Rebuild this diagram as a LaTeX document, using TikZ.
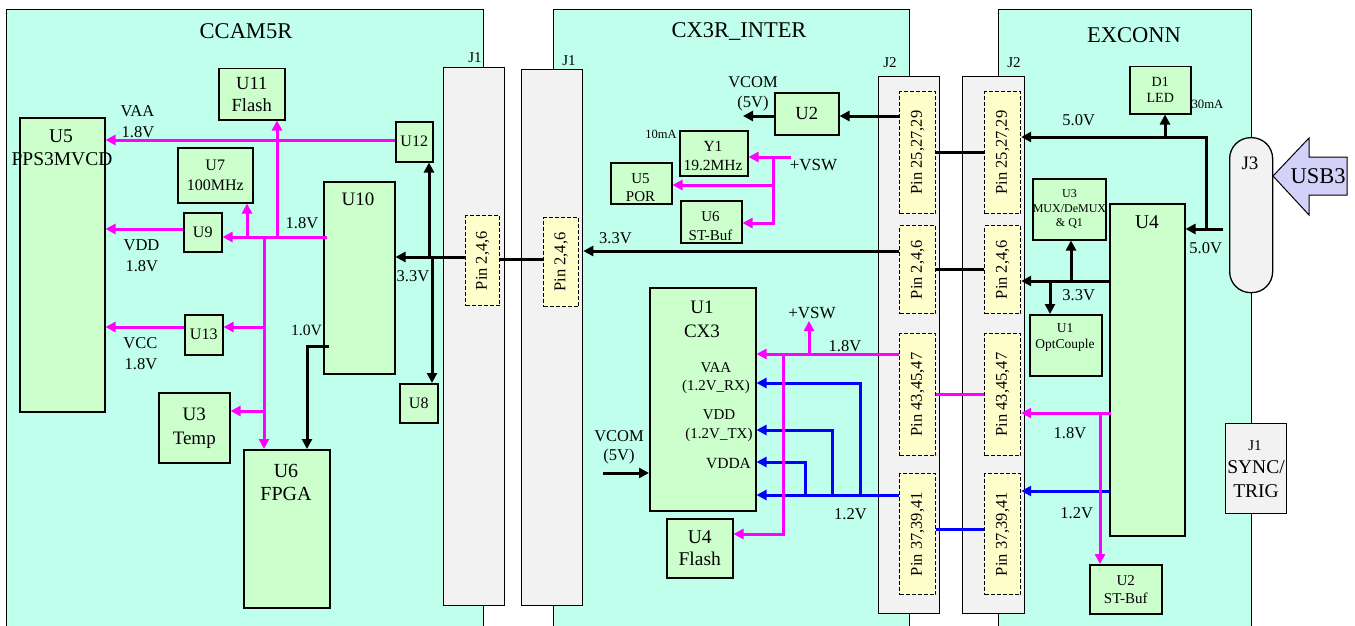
\documentclass[tikz,border=0pt]{standalone}
\usepackage{fontspec}
\setmainfont{Liberation Serif}
\usetikzlibrary{arrows.meta}
\definecolor{panelc}{RGB}{191,255,236}
\definecolor{boxc}{RGB}{204,255,204}
\definecolor{greyc}{RGB}{242,242,242}
\definecolor{pinc}{RGB}{255,255,204}
\definecolor{usbc}{RGB}{210,210,248}
\definecolor{magc}{RGB}{255,0,255}
\definecolor{bluc}{RGB}{0,0,255}
\newcommand\fz[2]{\fontsize{#1}{#2}\selectfont}
\newcommand\bx[7]{\node[#1,anchor=north west,minimum width={(#4)-(#2)},minimum height={(#5)-(#3)}] (#6) at (#2,#3) {#7};}
\tikzset{
  panel/.style={draw, line width=1.3pt, fill=panelc, inner sep=0pt},
  gbox/.style={draw, line width=1.5pt, fill=boxc, inner sep=0pt, align=center},
  conn/.style={draw, line width=1.3pt, fill=greyc, inner sep=0pt, align=center},
  pinb/.style={draw, line width=1.2pt, dash pattern=on 4pt off 2pt, fill=pinc, inner sep=0pt},
  pint/.style={rotate=90, inner sep=0pt, font=\fz{16.5}{19}},
  ttl/.style={inner sep=0pt, font=\fz{22.5}{26}},
  lab/.style={inner sep=0pt, align=center, font=\fz{16.5}{19}},
  bk/.style={line width=3pt, draw=black},
  mg/.style={line width=3pt, draw=magc},
  bl/.style={line width=3pt, draw=bluc},
  tip/.style={-{Triangle[length=10pt,width=10pt]}}
}
\begin{document}
\begin{tikzpicture}[x=1pt,y=-1pt]
\useasboundingbox (0,0) rectangle (1355,626);
\clip (0,0) rectangle (1355,626);
% panels
\bx{panel}{6}{9}{483}{640}{pA}{}
\bx{panel}{553}{9}{909}{640}{pB}{}
\bx{panel}{998}{9}{1251}{640}{pC}{}
\node[ttl] (tA) at (246,31) {CCAM5R};
\node[ttl] (tB) at (739,32) {CX3R\_INTER};
\node[ttl] (tC) at (1134,35) {EXCONN};
% board connectors
\bx{conn}{443}{67}{504}{605}{jA}{}
\bx{conn}{521}{69}{582}{605}{jB}{}
\bx{conn}{878}{76}{939}{613}{jC}{}
\bx{conn}{962}{76}{1024}{613}{jD}{}
\node[lab,font=\fz{15}{18}] (ljA) at (475,58) {J1};
\node[lab,font=\fz{15}{18}] (ljB) at (569,61) {J1};
\node[lab,font=\fz{15}{18}] (ljC) at (890,63) {J2};
\node[lab,font=\fz{15}{18}] (ljD) at (1014,63) {J2};
% pins
\bx{pinb}{465}{215}{499}{305}{pL}{}
\bx{pinb}{543}{217}{578}{306}{pM}{}
\bx{pinb}{899}{91}{935}{213}{a1}{}
\bx{pinb}{899}{225}{935}{313}{a2}{}
\bx{pinb}{899}{333}{935}{455}{a3}{}
\bx{pinb}{899}{473}{935}{594}{a4}{}
\bx{pinb}{984}{91}{1020}{213}{b1}{}
\bx{pinb}{984}{225}{1020}{313}{b2}{}
\bx{pinb}{984}{333}{1020}{455}{b3}{}
\bx{pinb}{984}{473}{1020}{594}{b4}{}
\node[pint] (tpL) at (pL) {Pin 2,4,6};
\node[pint] (tpM) at (pM) {Pin 2,4,6};
\node[pint] (ta1) at (a1) {Pin 25,27,29};
\node[pint] (ta2) at (a2) {Pin 2,4,6};
\node[pint] (ta3) at (a3) {Pin 43,45,47};
\node[pint] (ta4) at (a4) {Pin 37,39,41};
\node[pint] (tb1) at (b1) {Pin 25,27,29};
\node[pint] (tb2) at (b2) {Pin 2,4,6};
\node[pint] (tb3) at (b3) {Pin 43,45,47};
\node[pint] (tb4) at (b4) {Pin 37,39,41};
% CCAM5R boxes
\bx{gbox}{19}{117}{104}{411}{U5}{}
\node[lab,font=\fz{19.5}{22}] (tU5a) at (61,136) {U5};
\node[lab,font=\fz{19.5}{22}] (tU5b) at (62,159) {PPS3MVCD};
\bx{gbox,font=\fz{18.5}{22}}{218}{68}{284}{119}{U11}{U11\\Flash}
\bx{gbox,font=\fz{16}{20.5}}{177}{147}{252}{202}{U7}{U7\\100MHz}
\bx{gbox,font=\fz{16}{19}}{395}{121}{432}{161}{U12}{U12}
\bx{gbox,font=\fz{16}{19}}{183}{212}{221}{251}{U9}{U9}
\bx{gbox}{323}{181}{394}{373}{U10}{}
\node[lab,font=\fz{19}{22}] (tU10) at (358,199) {U10};
\bx{gbox,font=\fz{16}{19}}{184}{314}{222}{354}{U13}{U13}
\bx{gbox,font=\fz{19}{24}}{158}{392}{229}{462}{U3}{U3\\Temp}
\bx{gbox}{243}{449}{329}{607}{U6}{}
\node[lab,font=\fz{20}{23}] (tU6) at (286,482) {U6\\FPGA};
\bx{gbox,font=\fz{16}{19}}{399}{383}{437}{422}{U8}{U8}
% CX3R_INTER boxes
\bx{gbox,font=\fz{18.5}{22}}{774}{92}{838}{134}{U2m}{U2}
\bx{gbox}{679}{130}{747}{175}{Y1}{}
\node[lab,font=\fz{15.5}{19}] (tY1) at (713,156) {Y1\\19.2MHz};
\bx{gbox}{610}{162}{671}{203}{U5m}{}
\node[lab,font=\fz{15}{18}] (tU5m) at (640.5,188) {U5\\POR};
\bx{gbox}{680}{200}{741}{242}{U6m}{}
\node[lab,font=\fz{15}{19}] (tU6m) at (710.5,226.5) {U6\\ST-Buf};
\bx{gbox}{649}{287}{755}{510}{U1m}{}
\node[lab,font=\fz{19}{24}] (tU1m) at (702,319.5) {U1\\CX3};
\node[lab,font=\fz{15}{18}] (tvaa) at (716,378) {VAA\\(1.2V\_RX)};
\node[lab,font=\fz{15}{19}] (tvdd) at (719,425.5) {VDD\\(1.2V\_TX)};
\node[lab,font=\fz{15.5}{18}] (tvdda) at (728.5,463) {VDDA};
\bx{gbox,font=\fz{19.5}{22}}{666}{518}{732}{577}{U4m}{U4\\Flash}
% EXCONN boxes
\bx{gbox,font=\fz{14}{16}}{1129}{66}{1190}{113}{D1}{D1\\LED}
\bx{gbox,font=\fz{12}{14.5}}{1032}{178}{1104}{239}{U3r}{U3\\MUX/DeMUX\\\& Q1}
\bx{gbox}{1109}{203}{1184}{535}{U4r}{}
\node[lab,font=\fz{19.5}{22}] (tU4r) at (1147,222) {U4};
\bx{gbox}{1029}{314}{1101}{375}{U1r}{}
\node[lab,font=\fz{13.5}{16}] (tU1r) at (1065,337) {U1\\OptCouple};
\bx{gbox,font=\fz{15}{18}}{1089}{564}{1161}{613}{U2r}{U2\\ST-Buf}
\bx{conn}{1225}{423}{1286}{513}{J1r}{}
\node[lab,font=\fz{15}{18}] (tJ1r) at (1255,446) {J1};
\node[lab,font=\fz{19.5}{24}] (tJ1s) at (1256,479) {SYNC/\\TRIG};
\node[draw, line width=1.3pt, fill=greyc, rounded corners=21pt, anchor=north west,
      minimum width=43, minimum height=155, inner sep=0pt] (J3) at (1229,137) {};
\node[lab,font=\fz{19}{22}] (tJ3) at (1250,163) {J3};
\draw[fill=usbc, line width=1pt, line join=miter] (1273,176) -- (1309,138) -- (1309,157) -- (1347,157)
   -- (1347,195) -- (1309,195) -- (1309,215) -- cycle;
\node[lab,font=\fz{22.5}{26}] (tUSB) at (1318,176) {USB3};
% ---------- connectors: CCAM5R
\draw[bk,tip] (pL.west |- 0,257) -- (U10.east |- 0,257);
\draw[bk,tip] (429,257) -- (429,0 |- U12.south);
\draw[bk,tip] (432,257) -- (432,0 |- U8.north);
\draw[bk,tip] ([xshift=6pt]U10.west |- 0,346) -- (307,346) -- (307,0 |- U6.north);
\draw[mg,tip] (U12.west |- 0,140) -- (U5.east |- 0,140);
\draw[mg,tip] ([xshift=4pt]U10.west |- 0,237) -- (U9.east |- 0,237);
\draw[mg,tip] (277,237) -- (277,0 |- U11.south);
\draw[mg,tip] (247,237) -- (247,0 |- U7.south);
\draw[mg,tip] (264,237) -- (264,0 |- U6.north);
\draw[mg,tip] (264,327) -- (U13.east |- 0,327);
\draw[mg,tip] (264,411) -- (U3.east |- 0,411);
\draw[mg,tip] (U9.west |- 0,229) -- (U5.east |- 0,229);
\draw[mg,tip] (U13.west |- 0,327) -- (U5.east |- 0,327);
\node[lab] (l1) at (137.5,111.5) {VAA};
\node[lab] (l2) at (138,132.5) {1.8V};
\node[lab] (l3) at (141.5,245.5) {VDD};
\node[lab] (l4) at (141.8,266) {1.8V};
\node[lab] (l5) at (140.3,343.3) {VCC};
\node[lab] (l6) at (141,364.3) {1.8V};
\node[lab] (l7) at (302,223.3) {1.8V};
\node[lab] (l8) at (413,276) {3.3V};
\node[lab,font=\fz{15.7}{19}] (l9) at (306.5,330) {1.0V};
% ---------- connectors: CX3R_INTER
\coordinate (vcom) at (743,116);
\coordinate (vcomin) at (603,473);
\coordinate (vsw) at (809,321);
\draw[bk] (pL.east |- 0,259) -- (pM.west |- 0,259);
\draw[bk,tip] (a1.west |- 0,116) -- (U2m.east |- 0,116);
\draw[bk,tip] (U2m.west |- 0,116) -- (vcom);
\draw[mg,tip] (791,157) -- (Y1.east |- 0,157);
\draw[mg,tip] (773,157) -- (773,223) -- (U6m.east |- 0,223);
\draw[mg,tip] (773,185) -- (U5m.east |- 0,185);
\draw[bk,tip] (a2.west |- 0,251) -- (jB.east |- 0,251);
\draw[bk,tip] (vcomin) -- (U1m.west |- vcomin);
\draw[bl,tip] (a4.west |- 0,495) -- (U1m.east |- 0,495);
\draw[bl,tip] (860,495) -- (860,383) -- (U1m.east |- 0,383);
\draw[bl,tip] (832,495) -- (832,430) -- (U1m.east |- 0,430);
\draw[bl,tip] (805,495) -- (805,462) -- (U1m.east |- 0,462);
\draw[mg,tip] (a3.west |- 0,354) -- (U1m.east |- 0,354);
\draw[mg,tip] (809,354) -- (vsw);
\draw[mg,tip] (783,354) -- (783,534) -- (U4m.east |- 0,534);
\node[lab] (m1) at (753,82) {VCOM};
\node[lab] (m2) at (753,104) {(5V)};
\node[lab,font=\fz{12.5}{15}] (m3) at (661,134) {10mA};
\node[lab,font=\fz{17}{20}] (m4) at (813.5,165) {+VSW};
\node[lab] (m5) at (615.5,238) {3.3V};
\node[lab] (m6) at (619,436) {VCOM};
\node[lab] (m7) at (619,457) {(5V)};
\node[lab,font=\fz{17}{20}] (m8) at (812,312.7) {+VSW};
\node[lab] (m9) at (845,346) {1.8V};
\node[lab] (m10) at (850.5,513.7) {1.2V};
% ---------- between J2 connectors
\draw[bk] (a1.east |- 0,152) -- (b1.west |- 0,152);
\draw[bk] (a2.east |- 0,269) -- (b2.west |- 0,269);
\draw[mg] (a3.east |- 0,394) -- (b3.west |- 0,394);
\draw[bl] (a4.east |- 0,529) -- (b4.west |- 0,529);
% ---------- connectors: EXCONN
\draw[bk,tip] ([xshift=-6pt]J3.west |- 0,229) -- (U4r.east |- 0,229);
\draw[bk,tip] (1206,229) -- (1206,137) -- (b1.east |- 0,137);
\draw[bk,tip] (1165,137) -- (1165,0 |- D1.south);
\draw[bk,tip] (U4r.west |- 0,281) -- (b2.east |- 0,281);
\draw[bk,tip] (1071,281) -- (1071,0 |- U3r.south);
\draw[bk,tip] (1050,281) -- (1050,0 |- U1r.north);
\draw[bl,tip] (U4r.west |- 0,491) -- (b4.east |- 0,491);
\draw[mg,tip] ([xshift=2pt]U4r.west |- 0,413) -- (b3.east |- 0,413);
\draw[mg,tip] (1100,413) -- (1100,0 |- U2r.north);
\node[lab] (r1) at (1078.7,120) {5.0V};
\node[lab,font=\fz{12.7}{15}] (r2) at (1207.5,104) {30mA};
\node[lab] (r3) at (1205.7,247.7) {5.0V};
\node[lab] (r4) at (1078.7,295) {3.3V};
\node[lab] (r5) at (1070,432.7) {1.8V};
\node[lab] (r6) at (1076.7,513.3) {1.2V};
\end{tikzpicture}
\end{document}
